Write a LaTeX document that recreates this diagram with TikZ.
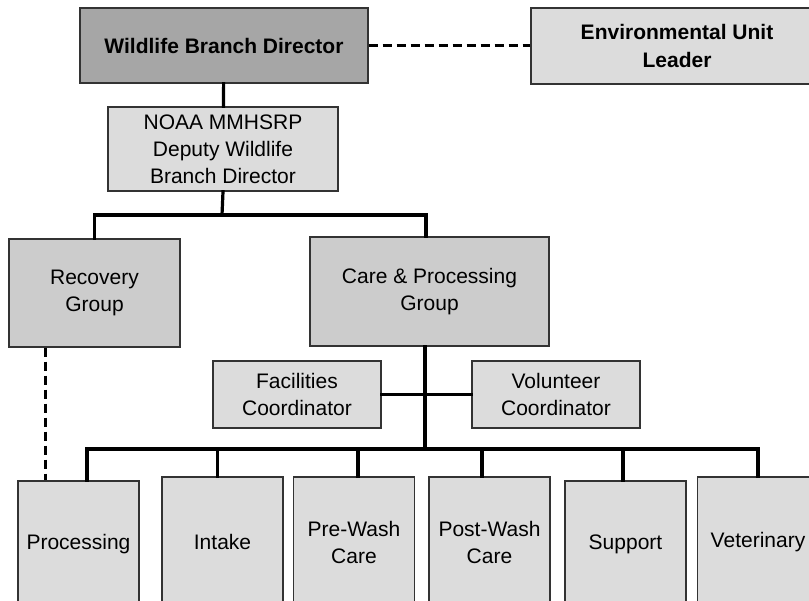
\documentclass[tikz,border=0pt]{standalone}
\usepackage{fontspec}
\setmainfont{Liberation Sans}
\usepackage{xcolor}
\usetikzlibrary{positioning, calc}

\definecolor{darkfill}{HTML}{A6A6A6}
\definecolor{midfill}{HTML}{CCCCCC}
\definecolor{lightfill}{HTML}{DCDCDC}
\definecolor{edgegray}{HTML}{333333}

\begin{document}
\begin{tikzpicture}[x=1pt, y=-1pt,
    box/.style={draw=edgegray, line width=1.4pt, inner sep=0pt, align=center,
      font=\fontsize{21}{27}\selectfont},
    boldbox/.style={box, font=\fontsize{21}{28}\selectfont\bfseries},
    unit/.style={box, fill=lightfill, minimum width=121, minimum height=130},
    link/.style={line width=3.2pt, line cap=rect},
    dashlink/.style={line width=3pt, dash pattern=on 9pt off 5pt}]
  \clip (0,0) rectangle (809,601);
  \fill[white] (0,0) rectangle (809,601);

  % top row
  \node[boldbox, fill=darkfill, minimum width=288, minimum height=75] (WBD) at (224,45.5) {Wildlife Branch Director};
  \node[boldbox, fill=lightfill, minimum width=292, minimum height=76] (ENV) at (677,46) {Environmental Unit\\Leader};
  \node[box, fill=lightfill, minimum width=230, minimum height=84] (DEP) at (223,149) {NOAA MMHSRP\\Deputy Wildlife\\Branch Director};

  % groups
  \node[box, fill=midfill, minimum width=171, minimum height=108] (REC) at (94.5,293) {Recovery\\Group};
  \node[box, fill=midfill, minimum width=239, minimum height=109] (CARE) at (429.5,291.5) {Care \& Processing\\Group};

  % coordinators
  \node[box, fill=lightfill, minimum width=168, minimum height=67] (FAC) at (297,394.5) {Facilities\\Coordinator};
  \node[box, fill=lightfill, minimum width=168, minimum height=67] (VOL) at (556,394.5) {Volunteer\\Coordinator};

  % units
  \node[unit, minimum height=126] (PROC) at (78.5,544) {Processing};
  \node[unit] (INT) at (222.5,542) {Intake};
  \node[unit] (PRE) at (354,542) {Pre-Wash\\Care};
  \node[unit] (POST) at (489.5,542) {Post-Wash\\Care};
  \node[unit, minimum height=126] (SUP) at (625.5,544) {Support};
  \node[unit] (VET) at (758,542) {Veterinary};

  \coordinate (split) at (222,215);
  \coordinate (bus) at (425,449);

  \draw[dashlink] (WBD.east) -- (WBD.east -| ENV.west);
  \draw[link] (WBD) -- (DEP);
  \draw[link] (DEP.south) -- (split);
  \draw[link] (split) -| (REC.north);
  \draw[link] (split) -| ([xshift=-3.5pt]CARE.north);
  \draw[link] ([xshift=-4.5pt]CARE.south) -- (bus);
  \draw[link] (FAC.east) -- (VOL.west);
  \draw[dashlink] ([xshift=-49.5pt]REC.south) -- ([xshift=-49.5pt]REC.south |- PROC.north);

  \draw[link] (bus) -| ([xshift=8.5pt]PROC.north);
  \draw[link] (bus) -| ([xshift=-5pt]INT.north);
  \draw[link] (bus) -| ([xshift=4pt]PRE.north);
  \draw[link] (bus) -| ([xshift=-7.5pt]POST.north);
  \draw[link] (bus) -| ([xshift=-2.5pt]SUP.north);
  \draw[link] (bus) -| (VET.north);
\end{tikzpicture}
\end{document}
